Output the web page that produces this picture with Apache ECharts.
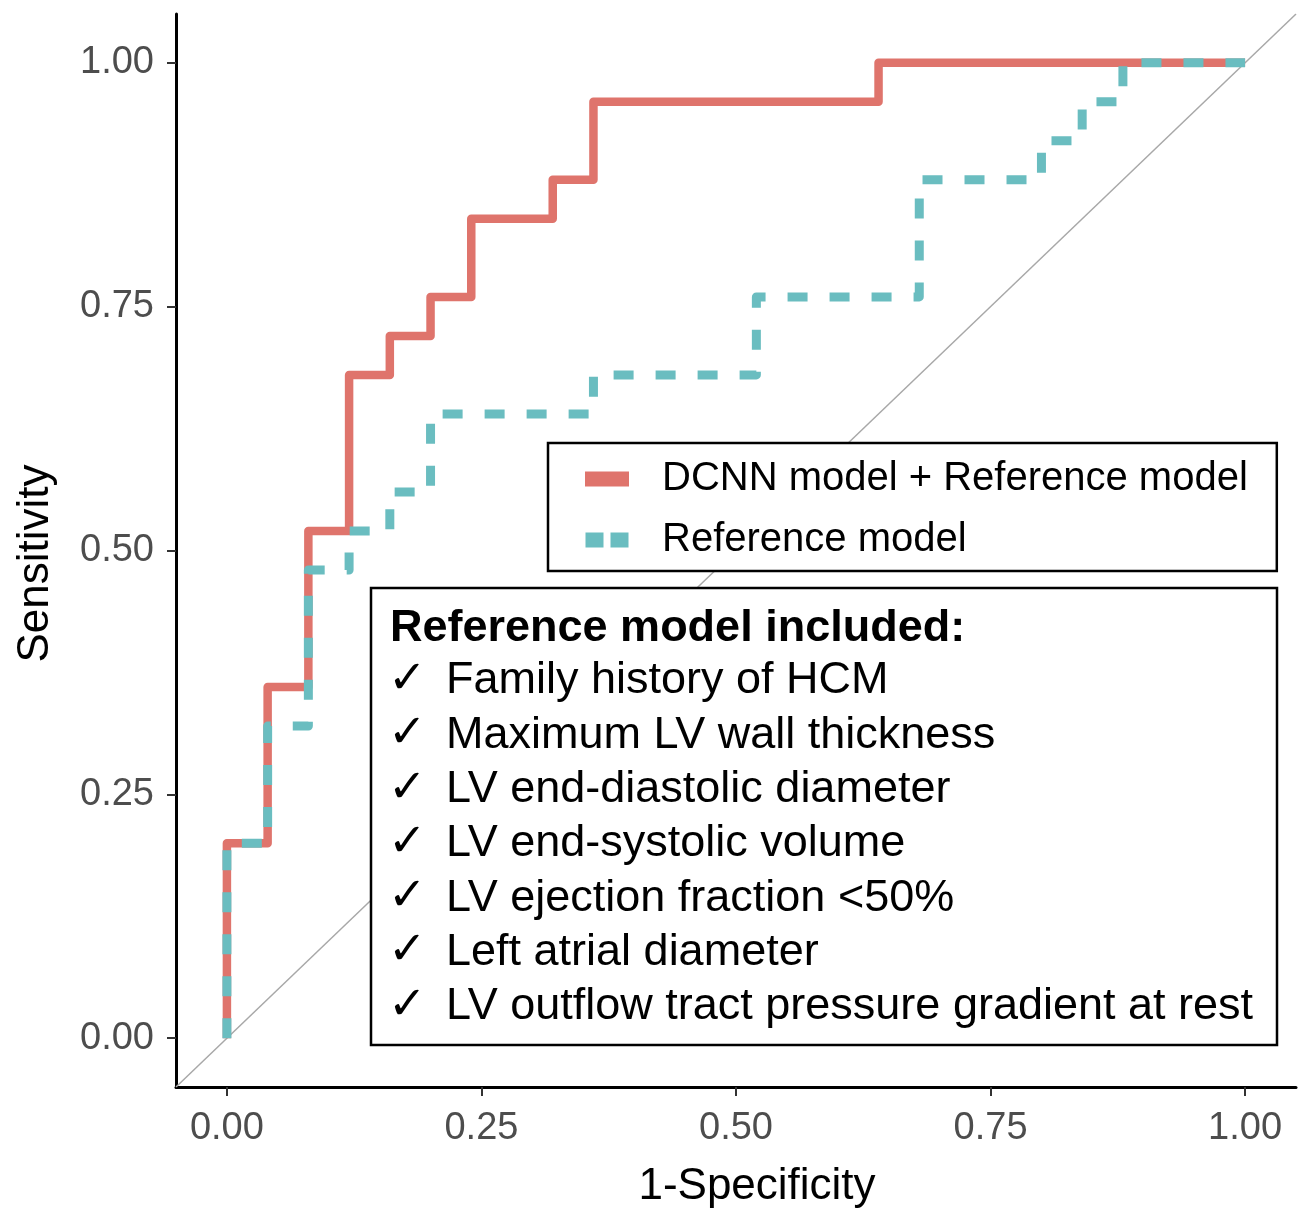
<!DOCTYPE html>
<html>
<head>
<meta charset="utf-8">
<script src="https://cdn.jsdelivr.net/npm/echarts@6/dist/echarts.min.js"></script>
<style>
  html, body { margin: 0; padding: 0; background: #fff; }
  #rocChart { width: 1298px; height: 1208px; }
</style>
</head>
<body>
<div id="rocChart"></div>
<script>
// ROC curve vertices (1-specificity, sensitivity)
const dcnnFpr = [0, 0, 0.04, 0.04, 0.08, 0.08, 0.12, 0.12, 0.16, 0.16, 0.20, 0.20, 0.24, 0.24, 0.32, 0.32, 0.36, 0.36, 0.64, 0.64, 1.00];
const dcnnTpr = [0, 0.20, 0.20, 0.36, 0.36, 0.52, 0.52, 0.68, 0.68, 0.72, 0.72, 0.76, 0.76, 0.84, 0.84, 0.88, 0.88, 0.96, 0.96, 1.00, 1.00];
const refFpr = [0, 0, 0.04, 0.04, 0.08, 0.08, 0.12, 0.12, 0.16, 0.16, 0.20, 0.20, 0.36, 0.36, 0.52, 0.52, 0.68, 0.68, 0.80, 0.80, 0.84, 0.84, 0.88, 0.88, 1.00];
const refTpr = [0, 0.20, 0.20, 0.32, 0.32, 0.48, 0.48, 0.52, 0.52, 0.56, 0.56, 0.64, 0.64, 0.68, 0.68, 0.76, 0.76, 0.88, 0.88, 0.92, 0.92, 0.96, 0.96, 1.00, 1.00];
const diagonal = [-0.05, 1.05];
const tickValues = [0, 0.25, 0.5, 0.75, 1];
const seriesNames = ['DCNN model + Reference model', 'Reference model'];
const boxTitle = 'Reference model included:';
const boxItems = [
  'Family history of HCM',
  'Maximum LV wall thickness',
  'LV end-diastolic diameter',
  'LV end-systolic volume',
  'LV ejection fraction <50%',
  'Left atrial diameter',
  'LV outflow tract pressure gradient at rest'
];

const font = 'Liberation Sans, Arial, Helvetica, sans-serif';
const chart = echarts.init(document.getElementById('rocChart'));

// annotation box drawn on top of the curves
const boxChildren = [
  {
    type: 'rect', z: 100,
    shape: { x: 371, y: 588, width: 906, height: 457 },
    style: { fill: '#fff', stroke: '#000', lineWidth: 2.5 }
  },
  {
    type: 'text', z: 101, x: 390, y: 629,
    style: { text: boxTitle, font: 'bold 45px ' + font, fill: '#000', verticalAlign: 'middle' }
  }
];
boxItems.forEach((t, i) => {
  const y = 681 + i * 54.3;
  boxChildren.push({
    type: 'text', z: 101, x: 388, y: y,
    style: { text: '\u2713', font: 'bold 46px DejaVu Sans', fill: '#000', verticalAlign: 'middle' }
  });
  boxChildren.push({
    type: 'text', z: 101, x: 446, y: y,
    style: { text: t, font: '45px ' + font, fill: '#000', verticalAlign: 'middle' }
  });
});

const option = {
  animation: false,
  backgroundColor: '#fff',
  grid: { left: 176, right: 2, top: 14, bottom: 121, containLabel: false, outerBoundsMode: 'none' },
  xAxis: {
    type: 'value', min: -0.05, max: 1.05,
    name: '1-Specificity', nameLocation: 'middle', nameGap: 78,
    nameTextStyle: { fontFamily: font, fontSize: 44, color: '#000', padding: [0, 0, 0, 42] },
    axisLine: { onZero: false, lineStyle: { color: '#000', width: 3 } },
    axisTick: { customValues: tickValues, length: 9, lineStyle: { color: '#333', width: 2 } },
    axisLabel: { customValues: tickValues, margin: 23, fontFamily: font, fontSize: 38, color: '#4d4d4d',
      formatter: v => v.toFixed(2) },
    splitLine: { show: false }
  },
  yAxis: {
    type: 'value', min: -0.05, max: 1.05,
    name: 'Sensitivity', nameLocation: 'middle', nameGap: 118, nameRotate: 90,
    nameTextStyle: { fontFamily: font, fontSize: 44, color: '#000', padding: [0, 26, 0, 0] },
    axisLine: { show: true, onZero: false, lineStyle: { color: '#000', width: 3 } },
    axisTick: { show: true, customValues: tickValues, length: 9, lineStyle: { color: '#333', width: 2 } },
    axisLabel: { customValues: tickValues, margin: 22, fontFamily: font, fontSize: 38, color: '#4d4d4d',
      formatter: v => v.toFixed(2) },
    splitLine: { show: false }
  },
  legend: {
    left: 548, top: 443, orient: 'vertical',
    padding: [12, 29, 7, 37],
    itemGap: 13, itemWidth: 44, itemHeight: 15,
    backgroundColor: '#fff', borderColor: '#000', borderWidth: 2.5, borderRadius: 0,
    textStyle: { fontFamily: font, fontSize: 40, lineHeight: 48, color: '#000', padding: [0, 0, 0, 28] },
    data: [
      { name: seriesNames[0], icon: 'rect' },
      { name: seriesNames[1], icon: 'path://M0,0H18V15H0Z M25,0H43V15H25Z' }
    ]
  },
  series: [
    {
      type: 'line', silent: true, symbol: 'none', z: 1,
      data: diagonal.map(v => [v, v]),
      lineStyle: { color: '#a8a8a8', width: 1.5 }
    },
    {
      name: seriesNames[0], type: 'line', symbol: 'none', z: 2,
      color: '#df746c',
      data: dcnnFpr.map((x, i) => [x, dcnnTpr[i]]),
      lineStyle: { width: 8.5, join: 'round', cap: 'butt' }
    },
    {
      name: seriesNames[1], type: 'line', symbol: 'none', z: 3,
      color: '#6abdc0',
      data: refFpr.map((x, i) => [x, refTpr[i]]),
      lineStyle: { width: 9, type: [20, 22], join: 'round', cap: 'butt' }
    }
  ],
  graphic: [{ type: 'group', z: 100, children: boxChildren }]
};

chart.setOption(option);
</script>
</body>
</html>
